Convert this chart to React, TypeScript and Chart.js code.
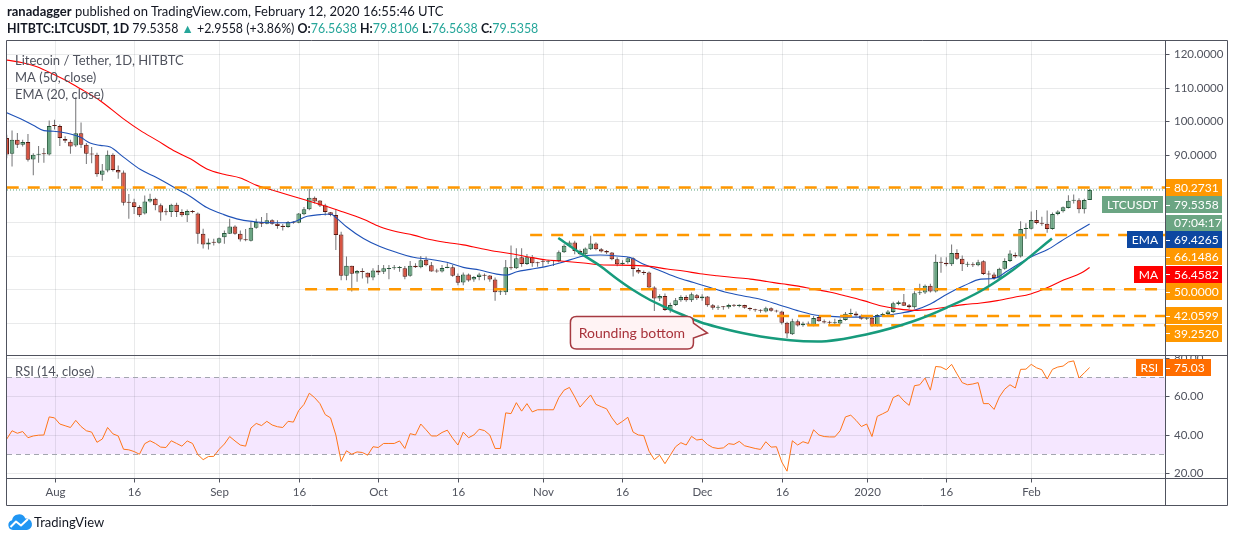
import React, { useEffect, useRef } from 'react';
import { Chart, registerables } from 'chart.js';

Chart.register(...registerables);

// ---------------- data ----------------
// day 0 = 2019-08-01 ; first candle = day -9 (2019-07-23), last = day 195 (2020-02-12)
const firstDay = -9;

const opens = [
  95.0, 90.3, 94.5, 93.0, 93.8, 88.6, 90.0, 90.3, 90.1, 98.9,
  98.6, 94.7, 93.9, 92.8, 96.4, 93.0, 90.3, 90.0, 84.1, 85.3,
  90.0, 85.5, 84.7, 75.9, 75.9, 74.5, 72.5, 76.1, 76.9, 75.0,
  73.0, 73.0, 75.1, 73.0, 72.0, 73.3, 72.5, 66.5, 63.3, 64.0,
  63.8, 65.5, 66.5, 68.7, 66.5, 64.8, 64.4, 68.3, 70.0, 69.5,
  70.5, 69.5, 68.9, 68.5, 70.0, 69.8, 72.3, 73.8, 77.2, 76.4,
  74.9, 72.9, 72.1, 66.3, 54.0, 57.0, 54.7, 55.3, 54.9, 53.5,
  55.6, 55.2, 56.0, 56.2, 56.3, 56.2, 54.0, 57.0, 56.5, 58.8,
  57.1, 55.4, 55.3, 56.3, 56.5, 54.0, 52.0, 54.4, 52.9, 53.6,
  54.3, 54.1, 52.9, 49.1, 49.1, 56.5, 56.2, 59.5, 57.5, 59.5,
  57.8, 58.3, 58.2, 58.4, 58.4, 61.0, 62.9, 63.9, 61.4, 60.4,
  61.9, 63.6, 61.9, 61.4, 60.9, 58.9, 57.4, 58.0, 59.2, 55.7,
  55.0, 55.0, 50.5, 47.2, 48.0, 43.8, 45.3, 46.7, 47.7, 46.7,
  48.2, 47.3, 47.8, 45.2, 44.5, 44.7, 44.6, 45.3, 45.0, 45.3,
  44.4, 44.0, 43.7, 43.4, 44.3, 43.6, 43.4, 40.0, 36.6, 40.5,
  39.3, 39.8, 39.3, 41.7, 40.5, 40.1, 39.9, 39.8, 40.8, 42.6,
  42.8, 42.2, 41.2, 41.5, 39.2, 42.3, 42.6, 43.2, 45.6, 46.1,
  45.2, 44.6, 48.8, 49.0, 51.0, 49.3, 58.2, 57.9, 57.4, 60.8,
  59.1, 57.3, 57.4, 57.1, 58.3, 54.5, 54.4, 53.2, 56.1, 58.4,
  60.2, 59.7, 67.9, 68.0, 70.6, 69.7, 69.5, 67.9, 72.4, 73.2,
  74.2, 76.3, 76.5, 73.8, 76.5638,
];

const highs = [
  96.0, 97.2, 96.5, 94.5, 96.2, 90.5, 92.6, 92.0, 100.2, 100.4,
  99.0, 95.5, 94.5, 107.1, 99.6, 93.5, 92.3, 90.6, 87.3, 91.3,
  90.5, 86.8, 85.3, 78.3, 76.9, 75.0, 77.9, 78.4, 77.2, 75.5,
  74.0, 75.4, 75.7, 73.8, 73.7, 73.6, 72.8, 68.0, 65.1, 65.0,
  65.4, 67.5, 71.0, 69.0, 67.5, 67.9, 70.0, 71.0, 71.5, 72.7,
  70.8, 70.5, 69.4, 70.3, 70.3, 72.7, 74.5, 79.8, 77.6, 76.5,
  75.4, 73.0, 73.8, 67.1, 59.7, 57.0, 55.7, 56.2, 55.0, 56.2,
  57.2, 57.2, 57.2, 57.2, 56.9, 56.9, 58.4, 57.7, 59.9, 59.7,
  58.1, 56.1, 57.2, 57.7, 57.2, 54.7, 55.0, 54.7, 53.9, 54.9,
  54.7, 54.2, 53.5, 50.3, 58.7, 63.0, 62.2, 62.2, 60.5, 60.2,
  58.2, 58.7, 58.7, 58.7, 61.5, 63.4, 64.4, 64.4, 61.8, 62.4,
  65.9, 64.0, 62.3, 61.7, 61.1, 59.5, 58.6, 59.6, 59.5, 56.3,
  55.6, 55.3, 50.9, 48.5, 48.7, 46.0, 47.4, 48.2, 48.2, 49.0,
  48.6, 48.5, 48.0, 45.6, 45.2, 45.0, 45.7, 45.6, 45.5, 45.4,
  44.6, 44.2, 44.0, 44.8, 44.6, 43.9, 43.6, 40.3, 41.2, 41.0,
  40.3, 40.4, 42.0, 42.2, 41.0, 40.6, 41.2, 41.3, 43.2, 44.2,
  43.4, 42.5, 42.0, 41.8, 42.6, 43.0, 43.8, 46.3, 46.6, 48.6,
  45.6, 49.4, 51.6, 51.4, 51.6, 60.3, 59.5, 59.5, 63.3, 61.9,
  60.0, 58.2, 58.0, 58.8, 58.6, 55.5, 55.0, 56.4, 59.2, 61.6,
  60.9, 70.2, 69.6, 73.1, 73.6, 71.6, 73.4, 72.8, 73.5, 74.6,
  78.0, 78.2, 77.1, 76.9, 79.8106,
];

const lows = [
  89.0, 86.5, 92.0, 92.5, 88.0, 83.9, 87.6, 87.6, 89.8, 97.5,
  92.6, 93.5, 90.3, 92.3, 92.0, 87.3, 87.5, 83.5, 82.3, 84.8,
  85.0, 82.9, 74.9, 71.0, 72.4, 71.5, 72.2, 75.8, 73.5, 70.4,
  72.0, 71.5, 71.5, 71.6, 70.0, 72.6, 63.5, 62.1, 61.8, 63.0,
  63.5, 63.5, 66.4, 66.2, 64.2, 64.3, 64.2, 68.0, 68.5, 69.3,
  69.2, 68.0, 67.5, 68.3, 69.5, 69.6, 72.0, 73.5, 75.5, 74.5,
  71.9, 71.7, 61.7, 52.7, 52.7, 49.3, 52.2, 53.2, 51.7, 52.7,
  54.2, 54.5, 53.0, 55.8, 55.2, 53.0, 53.7, 56.3, 56.2, 56.8,
  55.2, 54.9, 55.0, 56.2, 53.7, 51.2, 51.2, 52.2, 52.2, 52.7,
  52.7, 52.2, 46.6, 48.3, 48.3, 55.8, 56.0, 56.7, 57.2, 56.7,
  56.7, 56.7, 57.5, 56.9, 58.0, 60.8, 62.5, 60.4, 60.0, 59.9,
  61.7, 61.6, 60.9, 60.5, 58.6, 56.8, 57.1, 57.6, 53.8, 54.6,
  54.2, 50.2, 43.5, 46.5, 43.5, 43.0, 45.0, 46.3, 46.3, 46.2,
  46.8, 46.6, 44.8, 43.9, 43.8, 43.9, 44.2, 44.7, 44.6, 44.2,
  43.6, 43.3, 43.0, 43.1, 43.3, 43.1, 39.5, 35.5, 36.4, 38.9,
  38.8, 39.2, 39.0, 40.3, 39.8, 39.5, 39.2, 39.5, 40.6, 42.0,
  41.8, 40.9, 40.8, 38.8, 38.9, 41.8, 42.2, 42.9, 45.2, 45.0,
  44.2, 44.2, 48.3, 48.6, 49.0, 49.0, 54.9, 56.8, 56.9, 58.7,
  55.4, 56.6, 56.6, 56.8, 54.2, 51.0, 52.8, 52.9, 55.8, 58.1,
  59.3, 59.4, 65.0, 67.8, 69.3, 68.9, 66.8, 67.7, 72.0, 72.8,
  74.0, 75.5, 72.6, 72.5, 76.5638,
];

const closes = [
  90.1, 94.5, 93.0, 93.8, 88.5, 90.0, 90.3, 90.2, 98.6, 98.6,
  95.0, 94.2, 92.5, 96.4, 93.0, 90.3, 90.1, 84.2, 85.3, 90.0,
  85.5, 84.7, 75.7, 75.7, 74.5, 72.0, 76.1, 76.9, 75.0, 72.8,
  72.9, 75.1, 73.0, 72.0, 73.3, 73.0, 66.5, 63.3, 63.9, 63.8,
  65.2, 66.7, 68.7, 66.5, 64.8, 64.6, 68.3, 70.0, 69.5, 70.5,
  69.5, 68.8, 68.5, 70.0, 69.8, 72.5, 73.8, 77.2, 76.1, 74.9,
  73.0, 72.1, 66.1, 54.0, 57.0, 54.6, 55.4, 55.1, 53.5, 55.6,
  55.0, 56.2, 56.2, 56.5, 56.4, 53.7, 57.0, 56.5, 58.6, 57.1,
  55.3, 55.3, 56.3, 56.7, 54.0, 51.9, 54.4, 52.6, 53.6, 54.4,
  54.0, 52.9, 49.1, 49.2, 56.5, 56.2, 59.2, 57.5, 59.5, 57.7,
  57.7, 58.2, 58.3, 58.3, 61.0, 62.9, 63.9, 61.4, 60.4, 62.1,
  63.6, 61.9, 61.2, 60.9, 58.9, 57.4, 57.9, 59.2, 56.0, 55.0,
  54.8, 50.5, 47.2, 48.0, 43.8, 45.3, 46.7, 47.7, 46.7, 48.5,
  47.3, 47.8, 45.2, 44.5, 44.7, 44.6, 45.3, 45.1, 45.4, 44.5,
  44.0, 43.7, 43.6, 44.3, 43.6, 43.4, 40.0, 36.8, 40.5, 39.2,
  39.8, 39.5, 41.4, 40.5, 40.1, 40.0, 40.0, 40.8, 42.7, 42.8,
  42.2, 41.2, 41.5, 39.2, 42.3, 42.6, 43.4, 45.8, 46.1, 45.1,
  44.6, 48.8, 48.9, 51.0, 49.3, 58.2, 57.9, 57.4, 60.8, 59.1,
  57.4, 57.4, 57.1, 58.0, 54.5, 54.4, 53.3, 56.1, 58.4, 60.6,
  59.7, 67.9, 68.0, 70.6, 69.7, 69.5, 67.9, 72.4, 73.1, 74.4,
  76.3, 76.5, 73.8, 76.56, 79.5358,
];

const rsiValues = [
  37.9, 42.2, 40.9, 41.8, 38.6, 39.5, 39.9, 40.0, 49.4,
  48.9, 45.7, 44.8, 43.9, 47.6, 44.4, 42.2, 41.5, 36.2, 37.9,
  43.9, 40.6, 39.5, 32.6, 32.3, 31.4, 30.0, 35.5, 37.0, 35.6,
  33.7, 33.5, 37.0, 35.6, 34.2, 36.9, 35.6, 29.8, 27.2, 28.8,
  28.9, 32.5, 35.3, 39.2, 36.9, 34.8, 34.2, 43.6, 46.0, 44.9,
  47.1, 45.2, 44.3, 43.9, 47.1, 46.7, 52.7, 55.9, 61.7, 59.4,
  56.3, 50.6, 48.9, 40.0, 26.3, 31.8, 30.0, 31.2, 30.9, 29.5,
  33.9, 33.5, 35.6, 35.6, 35.6, 36.9, 33.0, 40.7, 40.0, 45.7,
  42.7, 39.5, 39.5, 41.3, 42.5, 38.3, 34.8, 41.5, 38.6, 40.0,
  43.0, 42.3, 40.0, 33.0, 33.0, 51.5, 51.1, 56.8, 52.4, 56.3,
  52.0, 53.1, 53.1, 53.1, 53.1, 59.4, 63.3, 64.7, 59.8,
  54.5, 57.7, 60.8, 55.9, 54.7, 53.6, 48.9, 45.3, 47.1, 49.2,
  41.5, 40.0, 39.7, 31.6, 27.2, 29.5, 25.1, 29.5, 33.9, 36.0,
  34.8, 39.3, 37.4, 37.8, 35.1, 33.5, 33.0, 33.3, 35.5, 35.1,
  36.7, 34.4, 33.7, 33.0, 32.5, 36.5, 33.7, 33.9, 26.0, 21.2,
  37.0, 34.8, 36.5, 35.6, 42.7, 40.0, 39.2, 39.0, 39.0, 42.2,
  49.4, 50.3, 47.6, 44.4, 45.7, 39.2, 49.7, 51.0, 52.4, 59.4,
  60.8, 57.7, 55.4, 65.6, 66.1, 69.6, 63.3, 75.6, 75.3, 73.9,
  76.7, 71.8, 67.2, 66.1, 66.5, 67.2, 56.3, 56.3, 53.3, 59.8,
  63.8, 66.1, 64.4, 74.1, 74.2, 76.7, 74.9, 73.9, 69.1, 74.1,
  75.3, 75.8, 77.9, 78.5, 69.6, 72.3, 75.03,
];

const maDays = [
  -9, -6, -3.3, 0, 3, 5.5, 8.6, 13, 16.2, 19.3, 22.4, 25.6, 28.7, 31.9, 35, 38.1, 41.3, 44.4, 47.6, 50.7,
  53.8, 58.2, 61.3, 64.5, 67.6, 70.7, 73.9, 77, 80.1, 83.3, 86.4, 89.6, 92.7, 95.2, 99.7, 102.8, 109, 112.2,
  115.4, 118.5, 121.6, 124.8, 127.9, 131.1, 134.2, 137, 139.8, 143, 146.2, 149.3, 152.4, 155.6, 158.7, 161.9,
  165, 168.2, 171.3, 174.5, 177.6, 180.8, 183.9, 187.1, 190.2, 193.4, 195,
];
const maValues = [
  118.2, 117.4, 116.2, 113.8, 111.4, 109.1, 106.1, 100.7, 97.2, 94.3, 91.3, 88.8, 85.8, 84.2, 83.1, 80.9, 79.4,
  77.9, 76.4, 74.9, 73.3, 70.8, 68.6, 67.1, 66.1, 64.8, 63.9, 63.2, 62.2, 61.2, 60.5, 59.5, 58.7, 58.4, 57.8,
  57.3, 57.1, 56.8, 56.0, 55.4, 54.6, 54.0, 53.5, 53.0, 52.3, 51.6, 51.0, 50.0, 49.1, 47.9, 46.6, 45.1, 44.2,
  43.7, 44.0, 44.7, 45.4, 45.9, 46.6, 47.6, 48.6, 50.5, 52.8, 54.8, 56.4582,
];

const emaDays = [
  -9, -6.4, -3.9, -2, -0.2, 2.4, 4.9, 6.7, 8.6, 10.5, 13, 16.2, 19.3, 22.4, 25.6, 28.7, 31.9, 35, 38.1, 41.3,
  44.4, 47.6, 50.1, 52, 53.2, 55, 58.2, 61.3, 64.5, 67.6, 70.7, 73.9, 77, 80.1, 83.3, 85.2, 87.1, 89.6, 92.7,
  95.2, 99.7, 102.8, 106, 108.5, 111, 114.1, 117.3, 120.4, 123.5, 126.7, 129.8, 133, 136.4, 139.8, 143, 146.2,
  149.3, 152.4, 155.6, 158.7, 161.9, 165, 168.2, 171.3, 174.5, 177, 179.5, 182, 184.6, 187.1, 189.6, 192.1, 195,
];
const emaValues = [
  102.5, 100.7, 98.7, 97.2, 97.0, 96.4, 95.2, 93.5, 92.8, 92.3, 89.3, 85.6, 83.2, 80.4, 77.6, 74.3, 72.2, 70.7,
  70.0, 69.8, 69.8, 71.7, 72.2, 72.4, 71.1, 68.6, 65.1, 62.7, 60.9, 59.5, 58.9, 58.0, 56.5, 55.7, 54.5, 54.2,
  55.2, 55.9, 56.8, 57.8, 59.9, 60.2, 59.9, 59.4, 57.4, 55.5, 53.5, 52.0, 50.5, 49.0, 48.0, 47.0, 45.4, 43.7,
  42.4, 41.9, 41.7, 41.7, 42.0, 42.7, 43.7, 45.6, 48.6, 51.0, 53.0, 53.2, 55.4, 57.9, 60.1, 61.8, 64.3, 66.7,
  69.4265,
];

// "Rounding bottom" curve drawing (day, price)
const curveDays = [94.9, 99.6, 102.8, 106.0, 109.0, 112.2, 115.4, 118.4, 121.6, 124.8, 131.0, 138.6, 143.7, 153.1, 161.9, 168.1, 174.5, 180.8, 187.9];
const curveValues = [65.24, 60.18, 56.9, 53.04, 49.76, 46.79, 44.4, 42.32, 40.24, 38.75, 36.52, 34.79, 34.43, 36.61, 40.54, 44.55, 49.46, 56.01, 65.09];
const calloutText = 'Rounding bottom';
const calloutDay = 123.0;
const calloutPrice = 36.96;

// horizontal support / resistance levels
const levelValues = [80.2731, 66.1486, 50.0, 42.0599, 39.252];
const levelStartDays = [-9, 89.6, 47.2, 120.3, 141.8];

const lastPrice = 79.5358;
const lastEma = 69.4265;
const lastMa = 56.4582;
const lastRsi = 75.03;
const countdown = '07:04:17';

const xTickDays = [0, 15, 31, 46, 61, 76, 92, 107, 122, 137, 153, 168, 184];
const xTickLabels = ['Aug', '16', 'Sep', '16', 'Oct', '16', 'Nov', '16', 'Dec', '16', '2020', '16', 'Feb'];
const priceGridValues = [40, 50, 60, 70, 80, 90, 100, 110, 120];
const priceAxisLabels = [90, 100, 110, 120];
const rsiGridValues = [20, 40, 60, 80];

const legendLines = ['Litecoin / Tether, 1D, HITBTC', 'MA (50, close)', 'EMA (20, close)'];
const rsiLegend = 'RSI (14, close)';

// ---------------- style / layout ----------------
const FONT = 'Lato, "Open Sans", sans-serif';
const TEXT_GRAY = '#50535e';
const FRAME = '#50535e';
const GREEN_FILL = '#6ba583';
const GREEN_LINE = '#225437';
const RED_FILL = '#d75442';
const RED_LINE = '#5b1a13';
const WICK = '#737375';
const ORANGE = '#ff9800';
const TEAL = '#26a69a';

const X_MIN = -8.95;
const X_MAX = 209.2;
const Y_MIN = -6.19;
const Y_MAX = 124.17;
const RSI_MIN = 17.66;
const RSI_MAX = 245.2;
const SPLIT_Y = 355.5;
const AXIS_X = 1165.5;
const LABEL_H = 17.4;

function rr(ctx: CanvasRenderingContext2D, x: number, y: number, w: number, h: number) {
  ctx.fillRect(Math.round(x), Math.round(y), Math.round(w), Math.round(h));
}

const decorPlugin = {
  id: 'tvDecor',
  beforeDatasetsDraw(chart: any) {
    const { ctx, chartArea: ca } = chart;
    const xs = chart.scales.x;
    const ys = chart.scales.y;
    const rs = chart.scales.yRsi;
    ctx.save();
    // RSI band
    const r70 = rs.getPixelForValue(70);
    const r30 = rs.getPixelForValue(30);
    ctx.fillStyle = 'rgba(153, 21, 255, 0.1)';
    ctx.fillRect(ca.left, r70, ca.right - ca.left, r30 - r70);
    // grid
    ctx.strokeStyle = 'rgba(42, 46, 57, 0.1)';
    ctx.lineWidth = 1;
    ctx.beginPath();
    xTickDays.forEach((d) => {
      const px = Math.round(xs.getPixelForValue(d)) + 0.5;
      ctx.moveTo(px, ca.top);
      ctx.lineTo(px, ca.bottom);
    });
    priceGridValues.forEach((v) => {
      const py = Math.round(ys.getPixelForValue(v)) + 0.5;
      if (py > ca.top && py < SPLIT_Y) {
        ctx.moveTo(ca.left, py);
        ctx.lineTo(ca.right, py);
      }
    });
    rsiGridValues.forEach((v) => {
      const py = Math.round(rs.getPixelForValue(v)) + 0.5;
      ctx.moveTo(ca.left, py);
      ctx.lineTo(ca.right, py);
    });
    ctx.stroke();
    // 70 / 30 dashed
    ctx.setLineDash([5, 4]);
    ctx.strokeStyle = '#a3a6af';
    ctx.beginPath();
    [70, 30].forEach((v) => {
      const py = Math.round(rs.getPixelForValue(v)) + 0.5;
      ctx.moveTo(ca.left, py);
      ctx.lineTo(ca.right, py);
    });
    ctx.stroke();
    ctx.restore();
  },
  afterDraw(chart: any) {
    const { ctx, chartArea: ca } = chart;
    const xs = chart.scales.x;
    const ys = chart.scales.y;
    const rs = chart.scales.yRsi;
    ctx.save();

    // legends
    ctx.font = `13px ${FONT}`;
    ctx.fillStyle = TEXT_GRAY;
    ctx.textBaseline = 'middle';
    ctx.textAlign = 'left';
    legendLines.forEach((t, i) => ctx.fillText(t, 15, 61 + i * 17));
    ctx.fillText(rsiLegend, 15, 372);

    // callout
    const tx = xs.getPixelForValue(calloutDay);
    const ty = ys.getPixelForValue(calloutPrice);
    const L = tx - 137;
    const R = tx - 14;
    const T = ty - 16.5;
    const B = ty + 16;
    const rad = 6;
    ctx.beginPath();
    ctx.moveTo(L + rad, T);
    ctx.lineTo(R - rad, T);
    ctx.quadraticCurveTo(R, T, R, T + rad);
    ctx.lineTo(R, ty - 10);
    ctx.lineTo(tx, ty);
    ctx.lineTo(R, ty + 5);
    ctx.lineTo(R, B - rad);
    ctx.quadraticCurveTo(R, B, R - rad, B);
    ctx.lineTo(L + rad, B);
    ctx.quadraticCurveTo(L, B, L, B - rad);
    ctx.lineTo(L, T + rad);
    ctx.quadraticCurveTo(L, T, L + rad, T);
    ctx.closePath();
    ctx.fillStyle = '#fff3f4';
    ctx.fill();
    ctx.lineWidth = 1.5;
    ctx.strokeStyle = '#a63a41';
    ctx.stroke();
    ctx.fillStyle = '#a8323a';
    ctx.font = `14px ${FONT}`;
    ctx.textAlign = 'center';
    ctx.fillText(calloutText, (L + R) / 2, (T + B) / 2 + 0.5);

    // white axis areas
    ctx.fillStyle = '#ffffff';
    ctx.fillRect(ca.right + 1, 41, 61, 464);
    ctx.fillRect(7, ca.bottom + 1, 1158, 26);

    // frame
    ctx.strokeStyle = FRAME;
    ctx.lineWidth = 1;
    ctx.beginPath();
    ctx.rect(6.5, 40.5, 1221, 465);
    ctx.moveTo(6.5, SPLIT_Y);
    ctx.lineTo(1227.5, SPLIT_Y);
    ctx.moveTo(6.5, 478.5);
    ctx.lineTo(1227.5, 478.5);
    ctx.moveTo(AXIS_X, 40.5);
    ctx.lineTo(AXIS_X, 505.5);
    ctx.stroke();

    // x axis
    ctx.font = `11.5px ${FONT}`;
    ctx.fillStyle = TEXT_GRAY;
    ctx.textAlign = 'center';
    ctx.beginPath();
    xTickDays.forEach((d, i) => {
      const px = Math.round(xs.getPixelForValue(d)) + 0.5;
      ctx.moveTo(px, 478.5);
      ctx.lineTo(px, 482.5);
      ctx.fillText(xTickLabels[i], px, 492);
    });
    ctx.stroke();

    // price axis labels
    ctx.textAlign = 'left';
    ctx.beginPath();
    priceAxisLabels.forEach((v) => {
      const py = Math.round(ys.getPixelForValue(v)) + 0.5;
      ctx.moveTo(AXIS_X, py);
      ctx.lineTo(AXIS_X + 4, py);
      ctx.fillText(v.toFixed(4), 1174, py);
    });
    ctx.stroke();

    // RSI axis labels (clipped to pane)
    ctx.save();
    ctx.beginPath();
    ctx.rect(AXIS_X + 0.5, SPLIT_Y + 0.5, 62, 478 - SPLIT_Y - 0.5);
    ctx.clip();
    ctx.beginPath();
    rsiGridValues.forEach((v) => {
      const py = Math.round(rs.getPixelForValue(v)) + 0.5;
      ctx.moveTo(AXIS_X, py);
      ctx.lineTo(AXIS_X + 4, py);
      ctx.fillText(v.toFixed(2), 1174, py);
    });
    ctx.stroke();
    ctx.restore();

    // price labels
    const labels = [
      { value: levelValues[0], text: levelValues[0].toFixed(4), bg: ORANGE },
      { value: lastPrice, text: lastPrice.toFixed(4), bg: GREEN_FILL, name: 'LTCUSDT', extra: countdown },
      { value: lastEma, text: lastEma.toFixed(4), bg: '#0d47a1', name: 'EMA' },
      { value: levelValues[1], text: levelValues[1].toFixed(4), bg: ORANGE },
      { value: lastMa, text: lastMa.toFixed(4), bg: '#ff0000', name: 'MA' },
      { value: levelValues[2], text: levelValues[2].toFixed(4), bg: ORANGE },
      { value: levelValues[3], text: levelValues[3].toFixed(4), bg: ORANGE },
      { value: levelValues[4], text: levelValues[4].toFixed(4), bg: ORANGE },
    ]
      .map((l: any) => ({ ...l, py: ys.getPixelForValue(l.value) }))
      .sort((a: any, b: any) => a.py - b.py);

    ctx.font = `12px ${FONT}`;
    let prev = -1e9;
    const drawLabel = (l: any, top: number, boxW: number) => {
      ctx.fillStyle = l.bg;
      rr(ctx, AXIS_X + 0.5, top, boxW, LABEL_H);
      const cy = top + LABEL_H / 2;
      ctx.strokeStyle = '#ffffff';
      ctx.beginPath();
      ctx.moveTo(AXIS_X + 0.5, Math.round(cy) + 0.5);
      ctx.lineTo(AXIS_X + 4.5, Math.round(cy) + 0.5);
      ctx.stroke();
      ctx.fillStyle = '#ffffff';
      ctx.textAlign = 'left';
      ctx.fillText(l.text, 1174, cy + 0.5);
      if (l.name) {
        const w = ctx.measureText(l.name).width + 10;
        ctx.fillStyle = l.bg;
        rr(ctx, AXIS_X - 2.5 - w, top, w, LABEL_H);
        ctx.fillStyle = '#ffffff';
        ctx.textAlign = 'center';
        ctx.fillText(l.name, AXIS_X - 2.5 - w / 2, cy + 0.5);
      }
    };
    labels.forEach((l: any) => {
      const h = l.extra ? LABEL_H * 2 : LABEL_H;
      const top = Math.max(l.py - LABEL_H / 2, prev);
      prev = top + h;
      drawLabel(l, top, 56);
      if (l.extra) {
        ctx.fillStyle = l.bg;
        rr(ctx, AXIS_X + 0.5, top + LABEL_H + 1, 56, LABEL_H - 1);
        ctx.fillStyle = '#ffffff';
        ctx.textAlign = 'left';
        ctx.fillText(l.extra, 1174, top + LABEL_H * 1.5 + 1);
      }
    });

    // RSI label
    const rsiTop = rs.getPixelForValue(lastRsi) - LABEL_H / 2;
    drawLabel({ text: lastRsi.toFixed(2), bg: '#ff6d00', name: 'RSI' }, rsiTop, 45);

    ctx.restore();
  },
};

export default function App() {
  const canvasRef = useRef<HTMLCanvasElement>(null);

  useEffect(() => {
    const canvas = canvasRef.current;
    if (!canvas) return;
    const days = opens.map((_, i) => firstDay + i);
    const isUp = opens.map((o, i) => closes[i] >= o);

    const levelSets = levelValues.map((v, i) => ({
      type: 'line' as const,
      data: [
        { x: levelStartDays[i], y: v },
        { x: X_MAX, y: v },
      ],
      borderColor: ORANGE,
      borderWidth: 2.5,
      borderDash: [12, 9],
      pointRadius: 0,
      yAxisID: 'y',
      order: 1,
    }));

    const chart = new Chart(canvas, {
      type: 'bar',
      data: {
        datasets: [
          {
            type: 'line',
            data: curveDays.map((d, i) => ({ x: d, y: curveValues[i] })),
            borderColor: '#179b7c',
            borderWidth: 2.5,
            pointRadius: 0,
            cubicInterpolationMode: 'monotone',
            yAxisID: 'y',
            order: 0,
          },
          ...levelSets,
          {
            type: 'line',
            data: [
              { x: X_MIN, y: lastPrice },
              { x: X_MAX, y: lastPrice },
            ],
            borderColor: '#4e9d72',
            borderWidth: 1,
            borderDash: [1, 2],
            pointRadius: 0,
            yAxisID: 'y',
            order: 2,
          },
          {
            type: 'line',
            data: maDays.map((d, i) => ({ x: d, y: maValues[i] })),
            borderColor: '#ff0000',
            borderWidth: 1.1,
            pointRadius: 0,
            cubicInterpolationMode: 'monotone',
            yAxisID: 'y',
            order: 2,
          },
          {
            type: 'line',
            data: emaDays.map((d, i) => ({ x: d, y: emaValues[i] })),
            borderColor: '#1f52b8',
            borderWidth: 1.1,
            pointRadius: 0,
            cubicInterpolationMode: 'monotone',
            yAxisID: 'y',
            order: 2,
          },
          {
            type: 'bar',
            data: days.map((d, i) => ({ x: d, y: [opens[i], closes[i]] })),
            backgroundColor: isUp.map((u) => (u ? GREEN_FILL : RED_FILL)),
            borderColor: isUp.map((u) => (u ? GREEN_LINE : RED_LINE)),
            borderWidth: 1,
            borderSkipped: false,
            barThickness: 4.6,
            minBarLength: 1,
            inflateAmount: 0,
            grouped: false,
            yAxisID: 'y',
            order: 3,
          },
          {
            type: 'bar',
            data: days.map((d, i) => ({ x: d, y: [lows[i], highs[i]] })),
            backgroundColor: WICK,
            borderWidth: 0,
            barThickness: 1,
            inflateAmount: 0,
            grouped: false,
            yAxisID: 'y',
            order: 4,
          },
          {
            type: 'line',
            data: days.map((d, i) => ({ x: d, y: rsiValues[i] })),
            borderColor: '#ff7518',
            borderWidth: 1,
            pointRadius: 0,
            yAxisID: 'yRsi',
            order: 2,
          },
        ] as any,
      },
      options: {
        responsive: false,
        animation: false,
        events: [],
        layout: { padding: { left: 7, top: 40, right: 69, bottom: 63 } },
        plugins: { legend: { display: false }, tooltip: { enabled: false } },
        scales: {
          x: { type: 'linear', axis: 'x', min: X_MIN, max: X_MAX, offset: false, display: false },
          y: { type: 'linear', axis: 'y', position: 'left', min: Y_MIN, max: Y_MAX, display: false },
          yRsi: { type: 'linear', axis: 'y', position: 'left', min: RSI_MIN, max: RSI_MAX, display: false },
        },
      } as any,
      plugins: [decorPlugin],
    });
    return () => chart.destroy();
  }, []);

  const green = { color: TEAL };
  return (
    <div style={{ position: 'absolute', left: 0, top: 0, width: 1234, height: 541, background: '#ffffff', overflow: 'hidden' }}>
      <canvas ref={canvasRef} width={1234} height={541} style={{ position: 'absolute', left: 0, top: 0, width: 1234, height: 541 }} />
      <div style={{ position: 'absolute', left: 7, top: 3, font: `13px ${FONT}`, lineHeight: '17px', color: '#131722', whiteSpace: 'nowrap' }}>
        <div>
          <b>ranadagger</b> published on TradingView.com, February 12, 2020 16:55:46 UTC
        </div>
        <div style={{ fontSize: '12.4px' }}>
          <b>HITBTC:LTCUSDT, 1D</b> 79.5358 <span style={green}>▲</span> +2.9558 (+3.86%) <b>O:</b>
          <span style={green}>76.5638</span> <b>H:</b>
          <span style={green}>79.8106</span> <b>L:</b>
          <span style={green}>76.5638</span> <b>C:</b>
          <span style={green}>79.5358</span>
        </div>
      </div>
      <svg style={{ position: 'absolute', left: 7, top: 513 }} width="26" height="18" viewBox="0 0 26 18">
        <path d="M6 17 A5 5 0 0 1 5 7.2 A7 7 0 0 1 18.3 5.5 A5.8 5.8 0 0 1 20 17 Z" fill="#2196f3" />
        <polyline points="3.5,14 9,8.5 14,12.5 21,6" fill="none" stroke="#ffffff" strokeWidth="2" strokeLinejoin="round" />
      </svg>
      <div style={{ position: 'absolute', left: 34, top: 513, font: `13px ${FONT}`, lineHeight: '18px', color: '#131722' }}>TradingView</div>
    </div>
  );
}
